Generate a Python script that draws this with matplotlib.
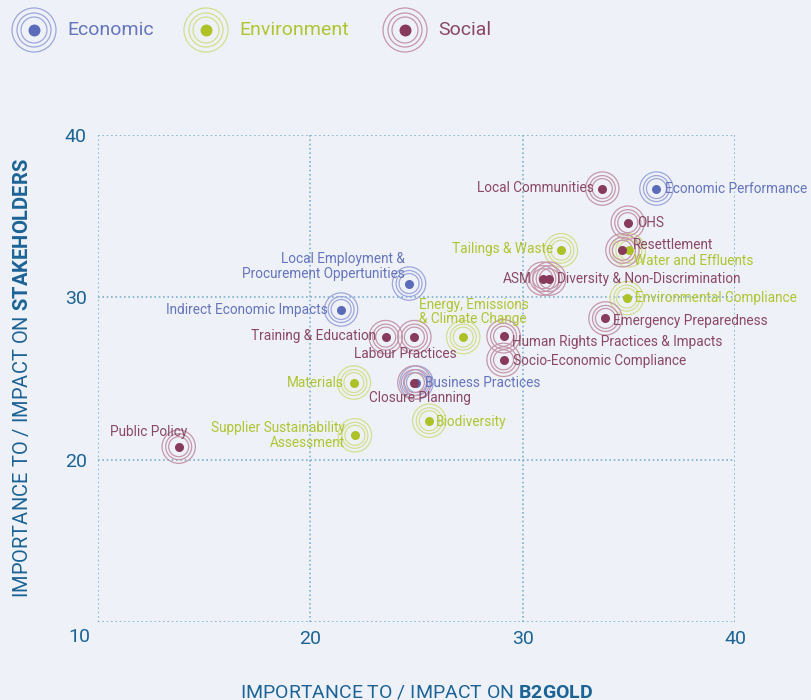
import matplotlib
matplotlib.use("Agg")
import matplotlib.pyplot as plt
from matplotlib import font_manager

# pick a narrow font if there is one
names = {f.name for f in font_manager.fontManager.ttflist}
FONT = "Liberation Sans Narrow" if "Liberation Sans Narrow" in names else "Roboto"
plt.rcParams["font.family"] = [FONT, "DejaVu Sans"]
plt.rcParams["mathtext.fontset"] = "custom"
plt.rcParams["mathtext.bf"] = FONT + ":bold"
plt.rcParams["mathtext.rm"] = FONT

# Material topics: importance to B2Gold (x) vs stakeholders (y)
topics = [
    "Economic Performance", "Local Employment &\nProcurement Oppertunities",
    "Indirect Economic Impacts", "Business Practices",
    "Tailings & Waste", "Water and Effluents", "Environmental Compliance",
    "Energy, Emissions\n& Climate Change", "Materials",
    "Supplier Sustainability\nAssessment", "Biodiversity",
    "Local Communities", "OHS", "Resettlement", "ASM",
    "Diversity & Non-Discrimination", "Emergency Preparedness",
    "Human Rights Practices & Impacts", "Socio-Economic Compliance",
    "Training & Education", "Labour Practices", "Closure Planning", "Public Policy",
]
x_b2gold = [36.3, 24.65, 21.45, 25.0,
            31.8, 35.0, 34.9, 27.2, 22.05, 22.1, 25.6,
            33.75, 34.95, 34.7, 30.95, 31.25, 33.9, 29.1, 29.1,
            23.55, 24.9, 24.9, 13.8]
y_stake = [36.7, 30.85, 29.25, 24.75,
           32.9, 32.9, 29.95, 27.55, 24.75, 21.5, 22.4,
           36.7, 34.6, 32.9, 31.15, 31.15, 28.7, 27.6, 26.15,
           27.55, 27.55, 24.75, 20.8]
category = ["Economic"] * 4 + ["Environment"] * 7 + ["Social"] * 12

categories = ["Economic", "Environment", "Social"]
dot_col = {"Economic": "#5a6cb9", "Environment": "#adc226", "Social": "#883a5b"}
ring_col = {"Economic": "#9ea6dc", "Environment": "#d3de8e", "Social": "#c597aa"}
text_col = {"Economic": "#6674bd", "Environment": "#b0c433", "Social": "#8b4864"}

# label offsets in pixels (dx, dy up), alignment
label_pos = {
    "Economic Performance": (9, 0, "left"),
    "Local Employment &\nProcurement Oppertunities": (-4, 17, "right"),
    "Indirect Economic Impacts": (-13, 0, "right"),
    "Business Practices": (9, 0, "left"),
    "Tailings & Waste": (-8, 1, "right"),
    "Water and Effluents": (5, -11, "left"),
    "Environmental Compliance": (8, 0, "left"),
    "Energy, Emissions\n& Climate Change": (-44, 25, "left"),
    "Materials": (-10, 0, "right"),
    "Supplier Sustainability\nAssessment": (-10, 0, "right"),
    "Biodiversity": (7, -1, "left"),
    "Local Communities": (-9, 1, "right"),
    "OHS": (9, 0, "left"),
    "Resettlement": (10, 5, "left"),
    "ASM": (-11, 0, "right"),
    "Diversity & Non-Discrimination": (8, 0, "left"),
    "Emergency Preparedness": (8, -3, "left"),
    "Human Rights Practices & Impacts": (8, -6, "left"),
    "Socio-Economic Compliance": (9, -1, "left"),
    "Training & Education": (-10, 1, "right"),
    "Labour Practices": (-9, -17, "center"),
    "Closure Planning": (6, -15, "center"),
    "Public Policy": (9, 15, "right"),
}

bg = "#eef2f8"
grid_c = "#7eb0d2"
axis_c = "#1c6396"

fig = plt.figure(figsize=(8.12, 7.0), dpi=100, facecolor=bg)
ax = fig.add_axes([98 / 812, 1 - 622 / 700, 637 / 812, 487 / 700])
ax.set_facecolor(bg)
ax.set_xlim(10, 40)
ax.set_ylim(10, 40)
for s in ax.spines.values():
    s.set_visible(False)
for v in [10, 20, 30, 40]:
    ax.axvline(v, color=grid_c, lw=1.2, ls=(0, (1, 1.6)), zorder=0)
    ax.axhline(v, color=grid_c, lw=1.2, ls=(0, (1, 1.6)), zorder=0)

ax.set_xticks([20, 30, 40])
ax.set_yticks([20, 30, 40])
ax.tick_params(length=0, labelsize=14, labelcolor=axis_c)
ax.tick_params(axis="x", pad=6)
ax.tick_params(axis="y", pad=8)
ax.text(-0.03, -0.031, "10", transform=ax.transAxes, ha="center", va="center",
        fontsize=14, color=axis_c)

ax.set_xlabel(r"IMPORTANCE TO / IMPACT ON $\bf{B2GOLD}$", fontsize=14,
              color=axis_c, labelpad=25)
ax.set_ylabel(r"IMPORTANCE TO / IMPACT ON $\bf{STAKEHOLDERS}$", fontsize=14.5,
              color=axis_c, labelpad=24)

ring_sizes = [14.4, 18.7, 24.0]
for name, xv, yv, cat in zip(topics, x_b2gold, y_stake, category):
    for d in ring_sizes:
        ax.scatter(xv, yv, s=d ** 2, facecolors="none", edgecolors=ring_col[cat],
                   linewidths=0.9, zorder=2)
    ax.scatter(xv, yv, s=6.5 ** 2, color=dot_col[cat], lw=0, zorder=3)
    dx, dy, ha = label_pos[name]
    ax.annotate(name, (xv, yv), xytext=(dx * 0.72, dy * 0.72),
                textcoords="offset points", ha=ha, va="center",
                multialignment=ha if ha != "center" else "left",
                fontsize=9.8, color=text_col[cat], zorder=4, linespacing=1.05)

# legend across the top, in pixel coordinates
lax = fig.add_axes([0, 0, 1, 1])
lax.set_xlim(0, 812)
lax.set_ylim(700, 0)
lax.axis("off")
for cat, px in zip(categories, [34, 206, 405]):
    for d in [18.7, 24.5, 31.7]:
        lax.scatter(px, 30, s=d ** 2, facecolors="none", edgecolors=ring_col[cat],
                    linewidths=0.9)
    lax.scatter(px, 30, s=8.6 ** 2, color=dot_col[cat], lw=0)
    lax.text(px + 33, 30, cat, va="center", ha="left", fontsize=14,
             color=text_col[cat])

fig.savefig("out.png", dpi=100, facecolor=bg)
